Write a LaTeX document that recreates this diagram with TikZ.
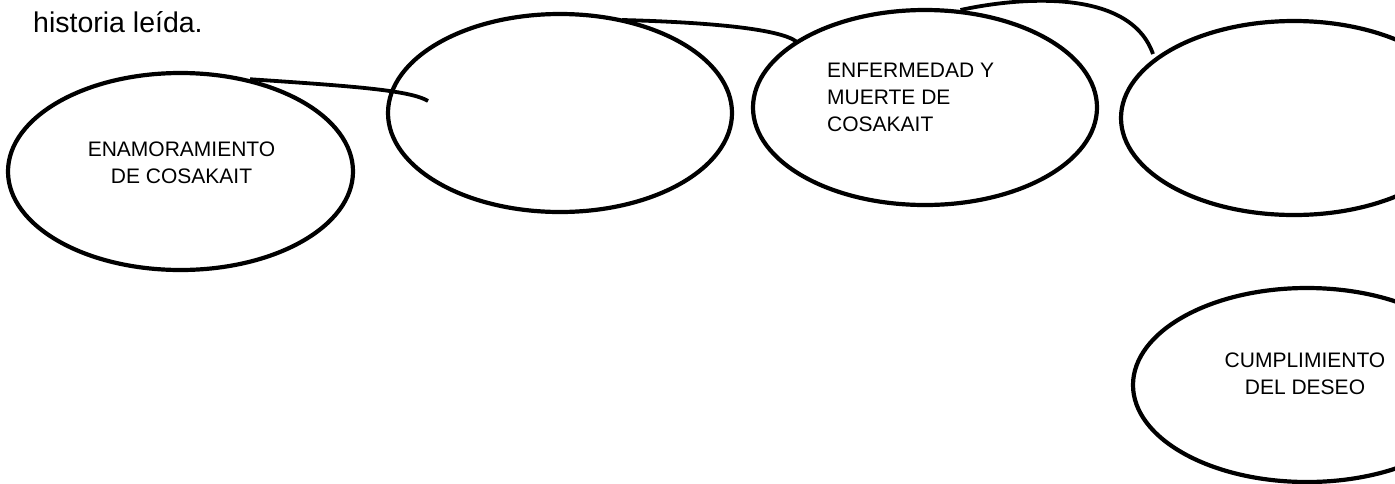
\documentclass[tikz,border=0pt]{standalone}
\usepackage{fontspec}
\setmainfont{Liberation Sans}
\usetikzlibrary{shapes.geometric}
\begin{document}
\begin{tikzpicture}[x=1pt,y=-1pt,
  oval/.style={draw=black, line width=4.2pt, ellipse, inner sep=0pt},
  lbl/.style={inner sep=0pt, font=\fontsize{21}{27}\selectfont},
  link/.style={draw=black, line width=3.8pt}]
\useasboundingbox (0,0) rectangle (1395,483);
\clip (0,0) rectangle (1395,483);
\fill[white] (0,0) rectangle (1395,483);
% title
\node[inner sep=0pt, anchor=base west, font=\fontsize{28.5}{34}\selectfont] (title) at (33,32) {historia leída.};
% ellipses
\node[oval, minimum width=345pt, minimum height=197pt] (e1) at (180.5,171.5) {};
\node[oval, minimum width=344pt, minimum height=198pt] (e2) at (560,113) {};
\node[oval, minimum width=344pt, minimum height=195pt] (e3) at (925,107.5) {};
\node[oval, minimum width=346pt, minimum height=194pt] (e4) at (1294,118) {};
\node[oval, minimum width=348pt, minimum height=194pt] (e5) at (1307,385) {};
% labels
\node[lbl, align=center] (t1) at (181.5,163) {ENAMORAMIENTO\\DE COSAKAIT};
\node[lbl, align=left, anchor=west] (t3) at (827,97.5) {ENFERMEDAD Y\\MUERTE DE\\COSAKAIT};
\node[lbl, align=center] (t5) at (1305,374) {CUMPLIMIENTO\\DEL DESEO};
% free ends
\coordinate (c1) at (428,101);
\coordinate (c2s) at (622,20);
\coordinate (c2) at (797,42);
\coordinate (c3) at (1153,54);
% connectors
\draw[link] (e1.53) .. controls (350,86) and (410,90) .. (c1);
\draw[link] (c2s) .. controls (700,22) and (780,28) .. (c2);
\draw[link] (e3.70) .. controls (1020,-3) and (1130,-12) .. (c3);
\end{tikzpicture}
\end{document}
